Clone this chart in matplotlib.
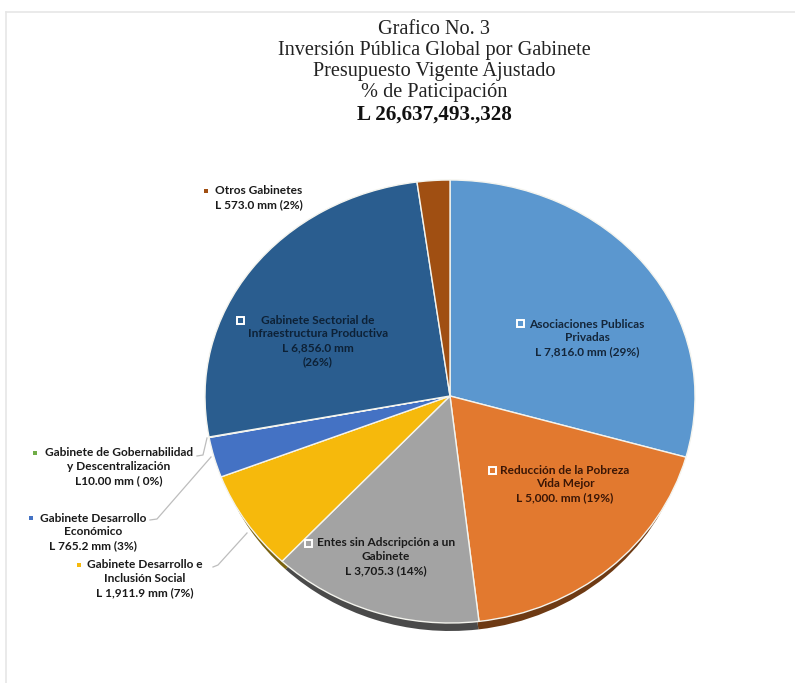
#!/usr/bin/env python3
"""Pie chart: Inversion Publica Global por Gabinete."""

import matplotlib
matplotlib.use("Agg")
import matplotlib.pyplot as plt
from matplotlib.patches import Rectangle

W, H = 795, 683

# Data, clockwise from twelve o'clock (L millions)
categories = [
    "Asociaciones Publicas Privadas",
    "Reducción de la Pobreza Vida Mejor",
    "Entes sin Adscripción a un Gabinete",
    "Gabinete Desarrollo e Inclusión Social",
    "Gabinete Desarrollo Económico",
    "Gabinete de Gobernabilidad y Descentralización",
    "Gabinete Sectorial de Infraestructura Productiva",
    "Otros Gabinetes",
]
values = [7816.0, 5000.0, 3705.3, 1911.9, 765.2, 10.0, 6856.0, 573.0]
colors = ["#5b97cf", "#e2792f", "#a3a3a3", "#f6b90c", "#4472c4", "#70ad47", "#2a5d8f", "#a04f12"]
rim_colors = ["#3a6489", "#6e3a14", "#4a4a4a", "#7a6210", "#2c4a80", "#47702c", "#1c3e60", "#6a350c"]

title_lines = [
    "Grafico No. 3",
    "Inversión Pública Global por Gabinete",
    "Presupuesto Vigente Ajustado",
    "% de Paticipación",
]
total_label = "L 26,637,493.,328"

# text, anchor x, first line y, marker x, marker y, marker colour, boxed marker, text colour
labels = [
    ("Asociaciones Publicas\nPrivadas\nL 7,816.0 mm (29%)", 587, 324, 520, 323, colors[0], True, "#14263a"),
    ("Reducción de la Pobreza\nVida Mejor\nL 5,000. mm (19%)", 565, 470, 492, 470, colors[1], True, "#3a1606"),
    ("Entes sin Adscripción a un\nGabinete\nL 3,705.3 (14%)", 386, 543, 308, 543, colors[2], True, "#1a1a1a"),
    ("Gabinete Sectorial de\nInfraestructura Productiva\nL 6,856.0 mm\n(26%)", 318, 320, 240, 320, colors[6], True, "#0d2136"),
    ("Gabinete de Gobernabilidad\ny Descentralización\nL10.00 mm ( 0%)", 119, 453, 35, 453, colors[5], False, "#1a1a1a"),
    ("Gabinete Desarrollo\nEconómico\nL 765.2 mm (3%)", 93, 518, 31, 518, colors[4], False, "#1a1a1a"),
    ("Gabinete Desarrollo e\nInclusión Social\nL 1,911.9 mm (7%)", 145, 565, 79, 565, colors[3], False, "#1a1a1a"),
    ("Otros Gabinetes\nL 573.0 mm (2%)", 259, 191, 206, 191, colors[7], False, "#1a1a1a"),
]

leaders = [
    ([197, 203, 207], [456, 455, 438]),
    ([150, 157, 211], [520, 519, 457]),
    ([213, 218, 247], [567, 565, 533]),
]

fig = plt.figure(figsize=(W / 100, H / 100), dpi=100, facecolor="white")


def draw_half(cx, cy, rx, ry, upper, cols, **wedge_kw):
    # the face is taller below the hub than above it, so each half gets its own axes
    if upper:
        rect = [(cx - rx * 1.05) / W, 1 - cy / H, 2.1 * rx / W, ry * 1.05 / H]
        ylim = (0, 1.05)
    else:
        rect = [(cx - rx * 1.05) / W, 1 - (cy + ry * 1.05) / H, 2.1 * rx / W, ry * 1.05 / H]
        ylim = (-1.05, 0)
    a = fig.add_axes(rect)
    # pie turns clipping off by default, the halves need it back on
    a.pie(values, colors=cols, startangle=90, counterclock=False, radius=1.0,
          wedgeprops=dict(clip_on=True, **wedge_kw))
    a.set_aspect("auto")
    a.set_xlim(-1.05, 1.05)
    a.set_ylim(*ylim)
    return a


cx, cy = 450, 396
draw_half(cx, cy + 8, 240, 227, False, rim_colors)
draw_half(cx, cy, 245, 216, True, colors, edgecolor="#f4f4ee", linewidth=1.0)
draw_half(cx, cy, 245, 227, False, colors, edgecolor="#f4f4ee", linewidth=1.0)

# overlay in image pixels for texts and frame
ov = fig.add_axes([0, 0, 1, 1], facecolor="none")
ov.set_xlim(0, W)
ov.set_ylim(H, 0)
ov.axis("off")

ov.plot([6, W], [12, 12], color="#e6e6e6", lw=1.2)
ov.plot([6, 6], [12, H], color="#e6e6e6", lw=1.2)

title_ys = [28, 49, 70.5, 92]
for line, y in zip(title_lines, title_ys):
    ov.text(434.5, y + 1, line, ha="center", va="center", family="Liberation Serif",
            fontsize=14.6, color="#222222")
ov.text(434.5, 115, total_label, ha="center", va="center", family="Liberation Serif",
        fontsize=15.2, fontweight="bold", color="#111111")

for xs, ys in leaders:
    ov.plot(xs, ys, color="#bdbdbd", lw=0.9)

for text, x, y, mx, my, col, boxed, tcol in labels:
    ov.text(x, y - 5.5, text, ha="center", va="top", family="Lato", fontweight="bold",
            fontsize=8.6, color=tcol, linespacing=1.33)
    if boxed:
        ov.add_patch(Rectangle((mx - 3.5, my - 3.5), 7, 7, facecolor=col, edgecolor="white", lw=1.4))
    else:
        ov.add_patch(Rectangle((mx - 2.2, my - 2.2), 4.4, 4.4, facecolor=col, edgecolor="none"))

fig.savefig("out.png", dpi=100, facecolor="white")
